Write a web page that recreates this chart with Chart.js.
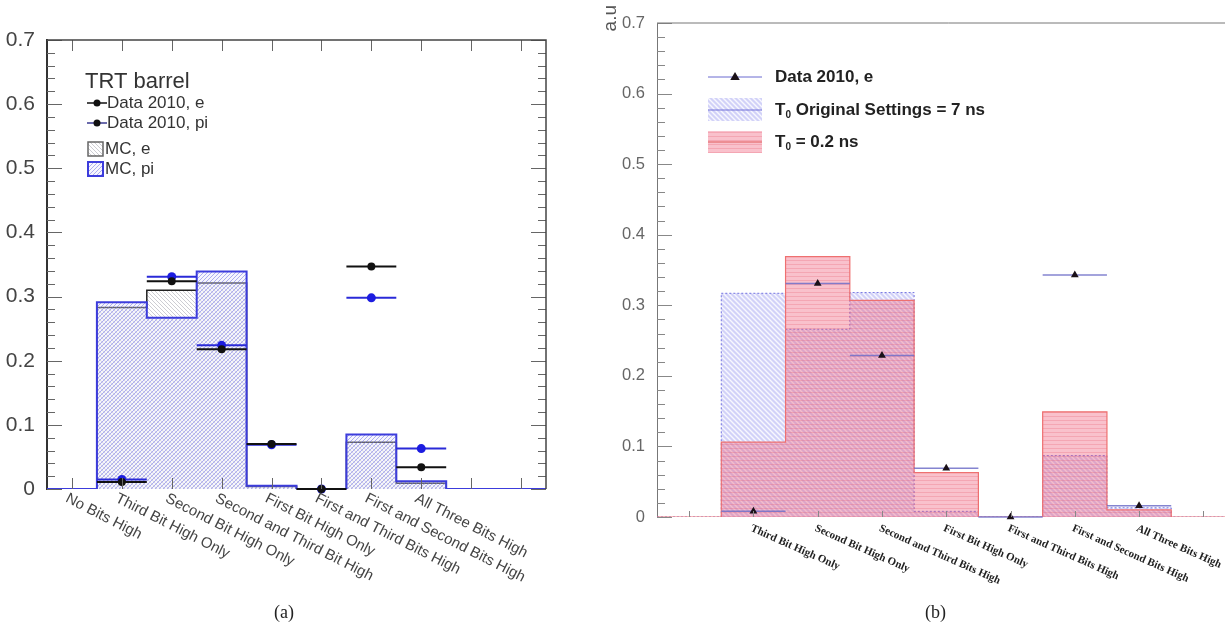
<!DOCTYPE html>
<html lang="en">
<head>
<meta charset="utf-8">
<title>TRT high threshold bits</title>
<script src="https://cdn.jsdelivr.net/npm/chart.js@4.4.1/dist/chart.umd.min.js"></script>
<style>
  html, body { margin: 0; padding: 0; background: #fff; overflow: hidden; }
  body { width: 1225px; height: 628px; position: relative; }
  canvas { position: absolute; top: 0; }
  #chartA { left: 0; }
  #chartB { left: 600px; }
  .cap { position: absolute; top: 602px; line-height: 20px; font: 18px "Liberation Serif", "Times New Roman", serif; color: #222; }
</style>
</head>
<body>
<canvas id="chartA" width="600" height="628"></canvas>
<canvas id="chartB" width="640" height="628"></canvas>
<div class="cap" style="left:274px">(a)</div>
<div class="cap" style="left:925px">(b)</div>

<script>
// ---- panel (a): TRT barrel, data vs MC ----
const binsA = ['No Bits High', 'Third Bit High Only', 'Second Bit High Only', 'Second and Third Bit High',
  'First Bit High Only', 'First and Third Bits High', 'First and Second Bits High', 'All Three Bits High', '', '']
const mcE = [0, 0.283, 0.310, 0.321, 0.004, 0, 0.073, 0.009, 0, 0]
const mcPi = [0, 0.291, 0.267, 0.339, 0.005, 0, 0.085, 0.012, 0, 0]
const dataE = [null, 0.011, 0.324, 0.218, 0.070, 0, 0.347, 0.034, null, null]
const dataPi = [null, 0.015, 0.331, 0.224, 0.069, 0, 0.298, 0.063, null, null]

// ---- panel (b): T0 settings ----
const binsB = ['', 'Third Bit High Only', 'Second Bit High Only', 'Second and Third Bits High',
  'First Bit High Only', 'First and Third Bits High', 'First and Second Bits High', 'All Three Bits High', '']
const t0Orig = [0, 0.317, 0.266, 0.318, 0.008, 0, 0.087, 0.013, 0]
const t0Low = [0, 0.106, 0.369, 0.307, 0.063, 0, 0.149, 0.010, 0]
const dataB = [null, 0.008, 0.331, 0.229, 0.069, 0, 0.343, 0.016, null]

const SANS = '"Liberation Sans", Arial, Helvetica, sans-serif'
const SERIF = '"Liberation Serif", "Times New Roman", serif'

// histogram outline: one point per bin edge, drawn stepped
function stepPoints(vals) {
  const pts = vals.map((v, i) => ({ x: i, y: v }))
  pts.push({ x: vals.length, y: vals[vals.length - 1] })
  return pts
}
function centerPoints(vals) {
  return vals.map((v, i) => (v === null ? null : { x: i + 0.5, y: v })).filter(p => p)
}

function hatch(size, bg, color, width, dir) {
  const c = document.createElement('canvas')
  c.width = c.height = size
  const g = c.getContext('2d')
  if (bg) { g.fillStyle = bg; g.fillRect(0, 0, size, size) }
  g.strokeStyle = color
  g.lineWidth = width
  g.beginPath()
  if (dir === '/') {
    g.moveTo(-1, size + 1); g.lineTo(size + 1, -1)
    g.moveTo(-1, 1); g.lineTo(1, -1)
    g.moveTo(size - 1, size + 1); g.lineTo(size + 1, size - 1)
  } else if (dir === '\\') {
    g.moveTo(-1, -1); g.lineTo(size + 1, size + 1)
    g.moveTo(size - 1, -1); g.lineTo(size + 1, 1)
    g.moveTo(-1, size - 1); g.lineTo(1, size + 1)
  } else {
    g.moveTo(0, 0.5); g.lineTo(size, 0.5)
  }
  g.stroke()
  return g.createPattern(c, 'repeat')
}

const patPi = hatch(4, 'rgba(225,225,248,0.35)', 'rgba(100,100,230,0.5)', 1, '/')
const patE = hatch(4, null, 'rgba(135,135,150,0.42)', 1, '\\')
const patOrig = hatch(5, 'rgb(210,210,248)', 'rgba(255,255,255,0.85)', 1.4, '\\')
const patLow = hatch(4, 'rgba(240,92,122,0.38)', 'rgba(225,70,90,0.22)', 1, '-')

// horizontal error bars spanning the bin
const errBars = {
  id: 'errBars',
  beforeDatasetDraw(chart, args) {
    const ds = chart.data.datasets[args.index]
    if (!ds.errX) return
    const ctx = chart.ctx, xs = chart.scales.x, ys = chart.scales.y
    ctx.save()
    ctx.strokeStyle = ds.errColor
    ctx.lineWidth = ds.errWidth
    ds.data.forEach(p => {
      const y = ys.getPixelForValue(p.y)
      ctx.beginPath()
      ctx.moveTo(xs.getPixelForValue(p.x - ds.errX), y)
      ctx.lineTo(xs.getPixelForValue(p.x + ds.errX), y)
      ctx.stroke()
    })
    ctx.restore()
  }
}

// ROOT style frame: inward ticks, rotated bin labels
const rootFrame = {
  id: 'rootFrame',
  afterDraw(chart, args, o) {
    const ctx = chart.ctx, xs = chart.scales.x, ys = chart.scales.y
    const a = chart.chartArea
    ctx.save()
    ctx.strokeStyle = o.tickColor
    ctx.lineWidth = o.tickWidth
    ctx.beginPath()
    for (let k = 0; k <= 35; k++) {
      const v = k * 0.02
      const y = Math.round(ys.getPixelForValue(v)) + 0.5
      const len = k % 5 === 0 ? o.major : o.minor
      ctx.moveTo(a.left, y); ctx.lineTo(a.left + len, y)
      if (o.rightTicks) { ctx.moveTo(a.right, y); ctx.lineTo(a.right - len, y) }
    }
    for (let i = 0; i < o.labels.length; i++) {
      const x = Math.round(xs.getPixelForValue(i + 0.5)) + 0.5
      ctx.moveTo(x, a.bottom); ctx.lineTo(x, a.bottom - o.xTick)
      if (o.topTicks) { ctx.moveTo(x, a.top); ctx.lineTo(x, a.top + o.xTick) }
    }
    ctx.stroke()
    // frame
    ctx.strokeStyle = o.frameColor
    ctx.lineWidth = o.frameWidth
    ctx.beginPath()
    ctx.moveTo(a.left, a.top); ctx.lineTo(o.frameRight ? a.right : chart.width, a.top)
    if (o.frameRight) { ctx.lineTo(a.right, a.bottom) }
    ctx.stroke()
    // bin labels
    ctx.fillStyle = o.labelColor
    ctx.font = o.labelFont
    ctx.textAlign = 'left'
    ctx.textBaseline = 'top'
    o.labels.forEach((t, i) => {
      if (!t) return
      ctx.save()
      ctx.translate(xs.getPixelForValue(i + 0.5) + o.labelDx, a.bottom + o.labelDy)
      ctx.rotate(o.labelAngle * Math.PI / 180)
      ctx.fillText(t, 0, 0)
      ctx.restore()
    })
    ctx.restore()
  }
}

const legendA = {
  id: 'legendA',
  afterDraw(chart) {
    const ctx = chart.ctx
    ctx.save()
    ctx.fillStyle = '#333'
    ctx.font = '22px ' + SANS
    ctx.fillText('TRT barrel', 85, 88)
    ctx.font = '17px ' + SANS
    ctx.textBaseline = 'middle'
    const rows = [['Data 2010, e', 103, '#111'], ['Data 2010, pi', 123, '#3a3a90']]
    rows.forEach(([t, y, lc]) => {
      ctx.strokeStyle = lc; ctx.lineWidth = 1.5
      ctx.beginPath(); ctx.moveTo(87, y); ctx.lineTo(107, y); ctx.stroke()
      ctx.fillStyle = '#111'
      ctx.beginPath(); ctx.arc(97, y, 3.5, 0, Math.PI * 2); ctx.fill()
      ctx.fillStyle = '#333'
      ctx.fillText(t, 107, y)
    })
    ctx.fillStyle = patE; ctx.fillRect(88, 142, 15, 14)
    ctx.strokeStyle = '#666'; ctx.lineWidth = 1.5; ctx.strokeRect(88, 142, 15, 14)
    ctx.fillStyle = patPi; ctx.fillRect(88, 162, 15, 14)
    ctx.strokeStyle = '#3c3cdc'; ctx.lineWidth = 2; ctx.strokeRect(88, 162, 15, 14)
    ctx.fillStyle = '#333'
    ctx.fillText('MC, e', 105, 149)
    ctx.fillText('MC, pi', 105, 169)
    ctx.restore()
  }
}

function tri(ctx, x, y, r) {
  ctx.beginPath()
  ctx.moveTo(x, y - r)
  ctx.lineTo(x + r * 0.95, y + r * 0.6)
  ctx.lineTo(x - r * 0.95, y + r * 0.6)
  ctx.closePath()
  ctx.fill()
}

const legendB = {
  id: 'legendB',
  afterDraw(chart) {
    const ctx = chart.ctx
    ctx.save()
    // axis title
    ctx.save()
    ctx.translate(11, 5)
    ctx.rotate(-Math.PI / 2)
    ctx.font = '19px ' + SANS
    ctx.fillStyle = '#555'
    ctx.textAlign = 'right'
    ctx.textBaseline = 'middle'
    ctx.fillText('a.u', 0, 0)
    ctx.restore()

    ctx.strokeStyle = '#6a6ad0'; ctx.lineWidth = 1
    ctx.beginPath(); ctx.moveTo(108, 77); ctx.lineTo(162, 77); ctx.stroke()
    ctx.fillStyle = '#1a1018'; tri(ctx, 135, 77, 5)

    ctx.fillStyle = patOrig; ctx.fillRect(108, 98, 54, 23)
    ctx.strokeStyle = '#7070d8'
    ctx.beginPath(); ctx.moveTo(108, 110); ctx.lineTo(162, 110); ctx.stroke()
    ctx.fillStyle = patLow; ctx.fillRect(108, 131, 54, 22)
    ctx.strokeStyle = '#e05a5a'
    ctx.beginPath(); ctx.moveTo(108, 142); ctx.lineTo(162, 142); ctx.stroke()

    ctx.fillStyle = '#222'
    ctx.textBaseline = 'middle'
    const big = 'bold 17px ' + SANS, small = 'bold 10px ' + SANS
    ctx.font = big
    ctx.fillText('Data 2010, e', 175, 77)
    const t0 = (y, rest) => {
      ctx.font = big
      ctx.fillText('T', 175, y)
      const w = ctx.measureText('T').width
      ctx.font = small
      ctx.fillText('0', 175 + w, y + 5)
      const w0 = ctx.measureText('0').width
      ctx.font = big
      ctx.fillText(rest, 175 + w + w0, y)
    }
    t0(110, ' Original Settings = 7 ns')
    t0(142, ' = 0.2 ns')
    ctx.restore()
  }
}

const common = {
  responsive: false,
  animation: false,
  events: [],
  plugins: { legend: { display: false }, tooltip: { enabled: false } }
}

new Chart(document.getElementById('chartA'), {
  type: 'line',
  plugins: [errBars, rootFrame, legendA],
  data: {
    datasets: [
      { data: stepPoints(mcE), stepped: true, borderColor: '#222', borderWidth: 1.5, backgroundColor: patE, fill: 'origin', pointRadius: 0, order: 3 },
      { data: stepPoints(mcPi), stepped: true, borderColor: '#3c3cdc', borderWidth: 2, backgroundColor: patPi, fill: 'origin', pointRadius: 0, order: 2 },
      { type: 'scatter', data: centerPoints(dataPi), pointRadius: 4.5, backgroundColor: '#1c1ce0', borderWidth: 0, errX: 0.5, errColor: '#2a2ad8', errWidth: 2, clip: false, order: 1 },
      { type: 'scatter', data: centerPoints(dataE), pointRadius: 4, backgroundColor: '#111', borderWidth: 0, errX: 0.5, errColor: '#111', errWidth: 2, clip: false, order: 0 }
    ]
  },
  options: {
    ...common,
    layout: { padding: { left: 0, top: 40, right: 54, bottom: 0 } },
    scales: {
      x: { type: 'linear', min: 0, max: 10, grid: { display: false }, border: { display: false }, ticks: { display: false }, afterFit: s => { s.height = 139 } },
      y: {
        min: 0, max: 0.7,
        grid: { display: false },
        border: { display: true, color: '#333', width: 2 },
        ticks: { stepSize: 0.1, padding: 4, color: '#444', font: { family: SANS, size: 21 }, callback: v => String(+v.toFixed(1)) },
        afterFit: s => { s.width = 47 }
      }
    },
    plugins: {
      ...common.plugins,
      rootFrame: {
        tickColor: '#666', tickWidth: 1, major: 15, minor: 8, xTick: 11, rightTicks: true, topTicks: true,
        frameColor: '#444', frameWidth: 1.5, frameRight: true,
        labels: binsA, labelFont: '15px ' + SANS, labelColor: '#444', labelAngle: 27, labelDx: -2, labelDy: 2
      }
    }
  }
})

new Chart(document.getElementById('chartB'), {
  type: 'line',
  plugins: [errBars, rootFrame, legendB],
  data: {
    datasets: [
      { data: stepPoints(t0Orig), stepped: true, borderColor: '#7474e0', borderWidth: 1, borderDash: [2, 2], backgroundColor: patOrig, fill: 'origin', pointRadius: 0, order: 3 },
      { data: stepPoints(t0Low), stepped: true, borderColor: '#ee7070', borderWidth: 1.2, backgroundColor: patLow, fill: 'origin', pointRadius: 0, order: 2 },
      { type: 'scatter', data: centerPoints(dataB), pointStyle: 'triangle', pointRadius: 4.5, backgroundColor: '#1a1018', borderWidth: 0, errX: 0.5, errColor: 'rgba(110,110,200,0.85)', errWidth: 1.5, clip: false, order: 0 }
    ]
  },
  options: {
    ...common,
    layout: { padding: { left: 0, top: 23, right: 3, bottom: 0 } },
    scales: {
      x: { type: 'linear', min: 0, max: 9, grid: { display: false }, border: { display: false }, ticks: { display: false }, afterFit: s => { s.height = 111 } },
      y: {
        min: 0, max: 0.7,
        grid: { display: false },
        border: { display: true, color: '#777', width: 1 },
        ticks: { stepSize: 0.1, padding: 4, color: '#666', font: { family: SANS, size: 16.5 }, callback: v => String(+v.toFixed(1)) },
        afterFit: s => { s.width = 57 }
      }
    },
    plugins: {
      ...common.plugins,
      rootFrame: {
        tickColor: '#888', tickWidth: 1, major: 15, minor: 8, xTick: 6, rightTicks: false, topTicks: false,
        frameColor: '#777', frameWidth: 1, frameRight: false,
        labels: binsB, labelFont: 'bold 11px ' + SERIF, labelColor: '#222', labelAngle: 24, labelDx: 0, labelDy: 6
      }
    }
  }
})
</script>
</body>
</html>
